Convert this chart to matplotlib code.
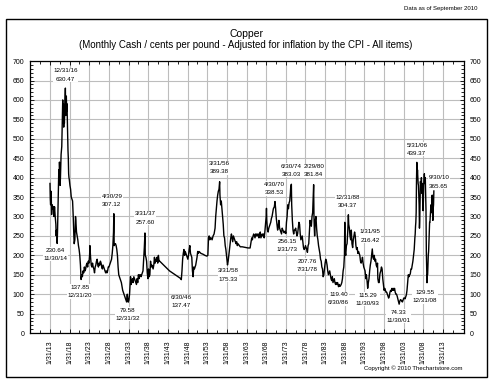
import matplotlib
matplotlib.use('Agg')
import matplotlib.pyplot as plt
import matplotlib.dates as mdates
import matplotlib.patches as patches
from matplotlib.ticker import MultipleLocator
import pandas as pd

plt.rcParams['font.family'] = ['Liberation Sans', 'DejaVu Sans']

# monthly copper price, cents per pound, inflation adjusted
months = [
    '1913-01', '1913-02', '1913-03', '1913-04', '1913-05', '1913-06', '1913-08', '1913-10', '1913-12',
    '1914-01', '1914-03', '1914-05', '1914-07', '1914-08', '1914-09', '1914-11', '1914-12',
    '1915-01', '1915-02', '1915-03', '1915-04', '1915-05', '1915-06', '1915-07', '1915-08', '1915-09', '1915-10', '1915-11', '1915-12',
    '1916-01', '1916-02', '1916-03', '1916-04', '1916-05', '1916-06', '1916-07', '1916-08', '1916-09', '1916-10', '1916-11', '1916-12',
    '1917-01', '1917-02', '1917-03', '1917-04', '1917-05', '1917-06', '1917-07', '1917-08', '1917-09', '1917-10', '1917-11', '1917-12',
    '1918-02', '1918-04', '1918-06', '1918-08', '1918-10', '1918-12',
    '1919-01', '1919-02', '1919-03', '1919-05', '1919-07', '1919-08', '1919-10', '1919-12',
    '1920-02', '1920-04', '1920-06', '1920-08', '1920-10', '1920-12',
    '1921-02', '1921-04', '1921-06', '1921-08', '1921-10', '1921-12',
    '1922-02', '1922-04', '1922-06', '1922-08', '1922-10', '1922-12',
    '1923-02', '1923-03', '1923-05', '1923-07', '1923-09', '1923-11',
    '1924-01', '1924-03', '1924-05', '1924-07', '1924-09', '1924-11',
    '1925-01', '1925-03', '1925-05', '1925-07', '1925-09', '1925-11',
    '1926-01', '1926-03', '1926-05', '1926-07', '1926-09', '1926-11',
    '1927-01', '1927-03', '1927-05', '1927-07', '1927-09', '1927-11',
    '1928-01', '1928-03', '1928-05', '1928-07', '1928-09', '1928-11',
    '1929-01', '1929-03', '1929-04', '1929-05', '1929-07', '1929-09', '1929-11',
    '1930-01', '1930-03', '1930-05', '1930-07', '1930-09', '1930-11',
    '1931-01', '1931-03', '1931-05', '1931-07', '1931-09', '1931-11',
    '1932-01', '1932-03', '1932-05', '1932-07', '1932-09', '1932-10', '1932-12',
    '1933-02', '1933-04', '1933-06', '1933-07', '1933-09', '1933-11',
    '1934-01', '1934-03', '1934-05', '1934-07', '1934-09', '1934-11',
    '1935-01', '1935-03', '1935-05', '1935-07', '1935-09', '1935-11',
    '1936-01', '1936-03', '1936-05', '1936-07', '1936-09', '1936-11',
    '1937-01', '1937-03', '1937-04', '1937-06', '1937-08', '1937-10', '1937-12',
    '1938-02', '1938-04', '1938-06', '1938-08', '1938-10', '1938-12',
    '1939-02', '1939-04', '1939-06', '1939-08', '1939-10', '1939-12',
    '1940-02', '1940-04', '1940-06', '1940-08', '1940-10', '1940-12',
    '1941-06', '1942-06', '1943-06', '1944-06', '1945-06', '1946-03',
    '1946-06', '1946-08', '1946-10', '1946-12',
    '1947-02', '1947-04', '1947-06', '1947-08', '1947-10', '1947-12',
    '1948-02', '1948-04', '1948-06', '1948-08', '1948-10', '1948-12',
    '1949-02', '1949-04', '1949-06', '1949-08', '1949-10', '1949-12',
    '1950-02', '1950-04', '1950-06', '1950-08', '1950-10', '1950-12',
    '1951-06', '1951-12', '1952-06', '1952-12',
    '1953-03', '1953-05', '1953-07', '1953-09', '1953-11',
    '1954-01', '1954-04', '1954-07', '1954-10',
    '1955-01', '1955-03', '1955-05', '1955-07', '1955-09', '1955-11',
    '1956-01', '1956-03', '1956-04', '1956-06', '1956-08', '1956-10', '1956-12',
    '1957-02', '1957-04', '1957-06', '1957-08', '1957-10', '1957-12',
    '1958-03', '1958-05', '1958-07', '1958-09', '1958-11',
    '1959-01', '1959-03', '1959-05', '1959-07', '1959-09', '1959-11',
    '1960-01', '1960-03', '1960-05', '1960-07', '1960-09', '1960-11',
    '1961-06', '1961-12', '1962-06', '1962-12', '1963-06', '1963-12',
    '1964-01', '1964-03', '1964-05', '1964-07', '1964-09', '1964-11',
    '1965-01', '1965-03', '1965-05', '1965-07', '1965-09', '1965-11',
    '1966-01', '1966-03', '1966-05', '1966-07', '1966-09', '1966-11',
    '1967-01', '1967-03', '1967-05', '1967-07', '1967-09', '1967-11',
    '1968-01', '1968-02', '1968-03', '1968-05', '1968-07', '1968-09', '1968-11',
    '1969-01', '1969-03', '1969-05', '1969-07', '1969-09', '1969-11',
    '1970-02', '1970-04', '1970-06', '1970-08', '1970-10', '1970-12',
    '1971-02', '1971-04', '1971-06', '1971-08', '1971-10', '1971-12',
    '1972-02', '1972-04', '1972-06', '1972-08', '1972-10', '1972-12',
    '1973-01', '1973-03', '1973-05', '1973-07', '1973-09', '1973-11',
    '1974-01', '1974-03', '1974-04', '1974-06', '1974-07', '1974-09', '1974-11',
    '1975-01', '1975-03', '1975-05', '1975-07', '1975-09', '1975-11',
    '1976-01', '1976-03', '1976-05', '1976-07', '1976-09', '1976-11',
    '1977-01', '1977-03', '1977-05', '1977-07', '1977-09', '1977-11',
    '1978-01', '1978-03', '1978-05', '1978-07', '1978-09', '1978-11',
    '1979-01', '1979-03', '1979-05', '1979-07', '1979-09', '1979-11',
    '1980-02', '1980-03', '1980-04', '1980-05', '1980-07', '1980-09', '1980-11',
    '1981-01', '1981-03', '1981-05', '1981-07', '1981-09', '1981-11',
    '1982-01', '1982-03', '1982-05', '1982-07', '1982-09', '1982-11',
    '1983-01', '1983-03', '1983-05', '1983-07', '1983-09', '1983-11',
    '1984-01', '1984-03', '1984-05', '1984-07', '1984-09', '1984-11',
    '1985-01', '1985-03', '1985-05', '1985-07', '1985-09', '1985-11',
    '1986-01', '1986-03', '1986-06', '1986-08', '1986-10', '1986-12',
    '1987-02', '1987-04', '1987-06', '1987-08', '1987-10', '1987-12',
    '1988-01', '1988-02', '1988-04', '1988-06', '1988-08', '1988-10', '1988-12',
    '1989-01', '1989-03', '1989-05', '1989-07', '1989-09', '1989-11',
    '1990-01', '1990-03', '1990-05', '1990-07', '1990-09', '1990-11',
    '1991-01', '1991-03', '1991-05', '1991-07', '1991-09', '1991-11',
    '1992-01', '1992-03', '1992-05', '1992-07', '1992-09', '1992-11',
    '1993-01', '1993-03', '1993-05', '1993-07', '1993-09', '1993-11',
    '1994-01', '1994-03', '1994-05', '1994-07', '1994-09', '1994-11',
    '1995-01', '1995-03', '1995-05', '1995-07', '1995-09', '1995-11',
    '1996-01', '1996-03', '1996-05', '1996-06', '1996-08', '1996-10', '1996-12',
    '1997-01', '1997-03', '1997-05', '1997-07', '1997-09', '1997-11',
    '1998-01', '1998-03', '1998-05', '1998-07', '1998-09', '1998-11',
    '1999-01', '1999-03', '1999-05', '1999-07', '1999-09', '1999-11',
    '2000-01', '2000-03', '2000-05', '2000-07', '2000-09', '2000-11',
    '2001-01', '2001-03', '2001-05', '2001-07', '2001-09', '2001-11',
    '2002-01', '2002-03', '2002-05', '2002-07', '2002-09', '2002-11',
    '2003-01', '2003-03', '2003-05', '2003-07', '2003-09', '2003-11',
    '2004-01', '2004-03', '2004-05', '2004-07', '2004-09', '2004-11',
    '2005-01', '2005-03', '2005-05', '2005-07', '2005-09', '2005-11', '2005-12',
    '2006-01', '2006-02', '2006-03', '2006-04', '2006-05', '2006-06', '2006-07', '2006-08', '2006-09', '2006-10', '2006-11', '2006-12',
    '2007-01', '2007-02', '2007-03', '2007-04', '2007-05', '2007-06', '2007-07', '2007-08', '2007-09', '2007-10', '2007-11', '2007-12',
    '2008-01', '2008-02', '2008-03', '2008-04', '2008-05', '2008-06', '2008-07', '2008-08', '2008-09', '2008-10', '2008-11', '2008-12',
    '2009-01', '2009-02', '2009-03', '2009-04', '2009-05', '2009-06', '2009-07', '2009-08', '2009-09', '2009-10', '2009-11', '2009-12',
    '2010-01', '2010-02', '2010-03', '2010-04', '2010-05', '2010-06', '2010-07', '2010-08', '2010-09',
]
cents = [
    385, 345, 330, 365, 350, 305, 330, 320, 325,
    300, 325, 300, 280, 250, 265, 230.64, 260,
    300, 340, 380, 420, 400, 440, 420, 380, 400, 430, 460, 470,
    480, 520, 560, 600, 540, 590, 530, 560, 540, 570, 600, 630.47,
    560, 600, 610, 570, 590, 550, 500, 470, 450, 410, 400, 395,
    380, 370, 350, 345, 340, 300,
    270, 250, 230, 240, 300, 290, 260, 250,
    240, 225, 215, 200, 175, 137.85,
    150, 145, 160, 155, 170, 160,
    165, 175, 180, 170, 185, 180,
    200, 225, 195, 175, 170, 180,
    170, 165, 155, 170, 175, 185,
    190, 175, 170, 180, 175, 185,
    180, 170, 165, 175, 170, 165,
    160, 155, 160, 155, 160, 170,
    170, 175, 180, 185, 190, 205,
    225, 260, 307.12, 225, 230, 230, 225,
    215, 200, 170, 150, 145, 140,
    135, 130, 120, 110, 105, 100,
    95, 90, 85, 80, 100, 90, 79.58,
    85, 100, 130, 145, 125, 135,
    140, 130, 145, 140, 135, 130,
    125, 140, 130, 150, 140, 150,
    150, 145, 150, 155, 160, 190,
    220, 257.60, 200, 195, 185, 155, 140,
    165, 145, 150, 185, 170, 175,
    170, 165, 175, 195, 180, 190,
    185, 195, 180, 200, 185, 185,
    180, 170, 160, 153, 146, 141,
    137.47, 160, 190, 205,
    215, 200, 210, 205, 200, 195,
    190, 200, 215, 225, 205, 200,
    195, 160, 145, 170, 165, 170,
    175, 185, 195, 210, 205, 210,
    205, 203, 200, 198,
    200, 245, 250, 240, 245,
    245, 240, 250, 255,
    270, 300, 320, 340, 355, 365,
    370, 389.38, 355, 330, 340, 320, 300,
    280, 250, 245, 225, 215, 200,
    175.33, 185, 200, 215, 230,
    245, 255, 245, 235, 250, 245,
    240, 235, 230, 235, 225, 230,
    222, 222, 221, 220, 219, 219,
    225, 235, 245, 240, 250, 255,
    250, 245, 255, 250, 255, 250,
    255, 245, 250, 260, 245, 250,
    255, 250, 255, 245, 260, 280,
    300, 321, 290, 265, 260, 270, 275,
    280, 285, 295, 300, 310, 320,
    325, 338.53, 320, 295, 280, 265,
    275, 290, 270, 265, 260, 255,
    270, 265, 262, 258, 262, 260,
    256.15, 285, 300, 330, 320, 335,
    340, 360, 375, 383.03, 330, 290, 265,
    255, 265, 265, 270, 260, 250,
    255, 270, 285, 280, 255, 240,
    245, 250, 235, 220, 215, 218,
    225, 220, 215, 207.76, 225, 230,
    260, 290, 280, 275, 300, 310,
    381.84, 300, 270, 250, 290, 300, 270,
    250, 240, 225, 215, 205, 190,
    185, 170, 165, 145, 150, 165,
    180, 190, 185, 175, 160, 150,
    155, 160, 150, 140, 135, 145,
    130, 135, 140, 130, 125, 130,
    125, 130, 119.40, 125, 120, 122,
    125, 130, 140, 160, 170, 200,
    285, 210, 200, 225, 230, 260, 304.37,
    280, 270, 250, 240, 265, 230,
    220, 240, 250, 260, 250, 225,
    215, 220, 205, 210, 205, 200,
    185, 180, 185, 195, 180, 170,
    165, 160, 140, 150, 135, 115.29,
    130, 140, 160, 175, 185, 200,
    216.42, 195, 190, 200, 185, 190,
    175, 170, 180, 140, 130, 130, 150,
    155, 160, 170, 165, 140, 125,
    110, 115, 110, 105, 105, 100,
    95, 90, 95, 105, 110, 107,
    115, 110, 115, 110, 115, 105,
    100, 100, 95, 88, 80, 74.33,
    82, 86, 85, 82, 80, 85,
    90, 90, 88, 93, 98, 110,
    130, 150, 145, 150, 152, 165,
    165, 175, 185, 200, 215, 245, 255,
    275, 285, 310, 390, 439.37, 400, 420, 400, 385, 380, 355, 330,
    270, 290, 340, 390, 380, 375, 400, 360, 375, 385, 330, 315,
    340, 380, 395, 410, 385, 400, 395, 350, 315, 210, 175, 129.55,
    150, 150, 175, 200, 210, 235, 260, 285, 285, 300, 310, 330,
    325, 310, 345, 355, 310, 290, 320, 330, 365.65,
]

# labelled highs and lows
note_months = ['1916-12', '1914-11', '1920-12', '1929-04', '1932-12', '1937-03', '1946-06',
               '1956-03', '1958-03', '1970-04', '1974-06', '1980-02', '1973-01', '1978-07',
               '1988-12', '1986-06', '1995-01', '1993-11', '2001-11', '2006-05', '2010-09',
               '2008-12']
note_values = [630.47, 230.64, 137.85, 307.12, 79.58, 257.60, 137.47,
               389.38, 175.33, 338.53, 383.03, 381.84, 256.15, 207.76,
               304.37, 119.40, 216.42, 115.29, 74.33, 439.37, 365.65,
               129.55]
note_date_first = [True, False, False, True, False, True, True,
                   True, True, True, True, True, False, False,
                   True, False, True, False, False, True, True,
                   False]
# label offsets in pixels (dx, dy)
note_offsets = [(0, 13), (-2, -11), (-1, -12), (-2, 13), (-1, -12), (0, 15), (0, -22),
                (0, 14), (1, -10), (-1, 13), (0, 14), (0, 14), (1, -12), (0, -13),
                (-1, 13), (0, -12), (-2, 13), (0, -11), (-1, -12), (0, 13), (5, 9),
                (-2, -14)]

dates = pd.to_datetime(months) + pd.offsets.MonthEnd(0)
note_dates = pd.to_datetime(note_months) + pd.offsets.MonthEnd(0)

fig = plt.figure(figsize=(5, 3.9), dpi=100)
ax = fig.add_axes([0.06, 0.146, 0.868, 0.6974])

# outer frame
frame = patches.Rectangle((0.012, 0.033), 0.962, 0.918, transform=fig.transFigure,
                          fill=False, edgecolor='black', linewidth=1.0)
fig.patches.append(frame)

ax.plot(dates, cents, color='black', linewidth=1.0, zorder=3)

ax.set_xlim(pd.Timestamp('1908-01-01'), pd.Timestamp('2018-06-01'))
ax.set_ylim(0, 700)

major_ticks = [pd.Timestamp(f'{y}-01-31') for y in range(1913, 2014, 5)]
minor_ticks = [pd.Timestamp(f'{y}-07-31') for y in range(1910, 2018, 5)]
ax.set_xticks(major_ticks)
ax.set_xticks(minor_ticks, minor=True)
ax.xaxis.set_major_formatter(mdates.DateFormatter('1/31/%y'))
ax.yaxis.set_major_locator(MultipleLocator(50))
ax.yaxis.set_minor_locator(MultipleLocator(10))

ax.grid(True, which='major', color='#bdbdbd', linewidth=0.8, zorder=0)
ax.set_axisbelow(True)

ax.tick_params(axis='both', which='both', direction='in', top=True, right=True,
               labelright=True, labelsize=5, width=0.6)
ax.tick_params(axis='both', which='major', length=3, pad=4)
ax.tick_params(axis='both', which='minor', length=2)
ax.tick_params(axis='x', which='major', pad=5)
for lab in ax.get_xticklabels():
    lab.set_rotation(90)
for sp in ax.spines.values():
    sp.set_linewidth(0.9)

for d, v, first, (dx, dy) in zip(note_dates, note_values, note_date_first, note_offsets):
    dtxt = f'{d.month}/{d.day}/{d.strftime("%y")}'
    vtxt = f'{v:.2f}'
    txt = f'{dtxt}\n{vtxt}' if first else f'{vtxt}\n{dtxt}'
    ax.annotate(txt, xy=(d, v), xytext=(dx, dy), textcoords='offset pixels',
                ha='center', va='center', fontsize=4.5, linespacing=1.8,
                bbox=dict(facecolor='white', edgecolor='none', pad=0.3), zorder=4)

fig.text(0.492, 0.913, 'Copper', ha='center', va='center', fontsize=7.5)
fig.text(0.492, 0.884, '(Monthly Cash / cents per pound - Adjusted for inflation by the CPI - All items)',
         ha='center', va='center', fontsize=7)
fig.text(0.956, 0.977, 'Data as of September 2010', ha='right', va='center', fontsize=4.3)
fig.text(0.924, 0.056, 'Copyright \u00a9 2010 Thechartstore.com', ha='right', va='center', fontsize=4.3)

plt.savefig('out.png', dpi=100)
plt.close()
